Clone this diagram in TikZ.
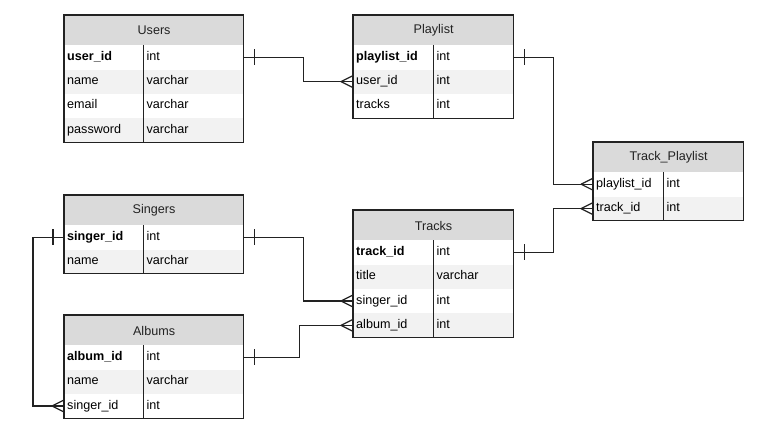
\documentclass[tikz,border=0pt]{standalone}
\usepackage{fontspec}
\setmainfont{Liberation Sans}
\usetikzlibrary{calc}
\definecolor{headgray}{RGB}{218,218,218}
\definecolor{rowgray}{RGB}{242,242,242}
\definecolor{ink}{RGB}{34,34,34}
\tikzset{
  tablehead/.style = {draw=ink, fill=headgray, line width=1.2, anchor=north west, minimum height=30, inner sep=0pt, text=ink},
  field/.style = {anchor=north west, minimum height=24, inner xsep=3, inner ysep=0, align=left, text height=9, text depth=3, text=black},
  whiterow/.style = {fill=white},
  greyrow/.style = {fill=rowgray},
  link/.style = {draw=ink, line width=1.2},
}
\newcommand{\erfield}[7]{
   \node[field, #3, text width=#4] (#1k) at (#2) {#6};
   \node[field, #3, text width=#5] (#1t) at (#1k.north east) {#7};
}
\newcommand{\erframe}[3]{
   \draw[link] (#1.north west) rectangle (#3t.south east);
   \draw[link] (#2k.north east) -- (#3k.south east);
}
\newcommand{\onemark}[2]{
   \draw[link] ($(#1)+(11*#2,-8)$) -- ++(0,16);
}
\newcommand{\manyend}[1]{
   \draw[link] ($(#1)+(-12,0)$) -- ++(12,-6);
   \draw[link] ($(#1)+(-12,0)$) -- ++(12,6);
}

\begin{document}
\begin{tikzpicture}[x=1pt, y=-1pt, font=\fontsize{12.6}{14}\selectfont]
		\useasboundingbox (0,0) rectangle (760,441);

		% Users
		\node[tablehead, minimum width=179] (users) at (64,15) {Users};
		\erfield{users1}{64,45}{whiterow}{73pt}{94pt}{\textbf{user\_id}}{int}
		\erfield{users2}{users1k.south west}{greyrow}{73pt}{94pt}{name}{varchar}
		\erfield{users3}{users2k.south west}{whiterow}{73pt}{94pt}{email}{varchar}
		\erfield{users4}{users3k.south west}{greyrow}{73pt}{94pt}{password}{varchar}
		\erframe{users}{users1}{users4}

		% Playlist
		\node[tablehead, minimum width=160] (playlist) at (353,15) {Playlist};
		\erfield{playlist1}{353,45}{whiterow}{74pt}{74pt}{\textbf{playlist\_id}}{int}
		\erfield{playlist2}{playlist1k.south west}{greyrow}{74pt}{74pt}{user\_id}{int}
		\erfield{playlist3}{playlist2k.south west}{whiterow}{74pt}{74pt}{tracks}{int}
		\erframe{playlist}{playlist1}{playlist3}

		% Track_Playlist
		\node[tablehead, minimum width=150] (trackpl) at (593,142) {Track\_Playlist};
		\erfield{trackpl1}{593,172}{whiterow}{64pt}{74pt}{playlist\_id}{int}
		\erfield{trackpl2}{trackpl1k.south west}{greyrow}{64pt}{74pt}{track\_id}{int}
		\erframe{trackpl}{trackpl1}{trackpl2}

		% Singers
		\node[tablehead, minimum width=179] (singers) at (64,195) {Singers};
		\erfield{singers1}{64,225}{whiterow}{73pt}{94pt}{\textbf{singer\_id}}{int}
		\erfield{singers2}{singers1k.south west}{greyrow}{73pt}{94pt}{name}{varchar}
		\erframe{singers}{singers1}{singers2}

		% Tracks
		\node[tablehead, minimum width=160] (tracks) at (353,210) {Tracks};
		\erfield{tracks1}{353,240}{whiterow}{74pt}{74pt}{\textbf{track\_id}}{int}
		\erfield{tracks2}{tracks1k.south west}{greyrow}{74pt}{74pt}{title}{varchar}
		\erfield{tracks3}{tracks2k.south west}{whiterow}{74pt}{74pt}{singer\_id}{int}
		\erfield{tracks4}{tracks3k.south west}{greyrow}{74pt}{74pt}{album\_id}{int}
		\erframe{tracks}{tracks1}{tracks4}

		% Albums
		\node[tablehead, minimum width=179] (albums) at (64,315) {Albums};
		\erfield{albums1}{64,345}{whiterow}{73pt}{94pt}{\textbf{album\_id}}{int}
		\erfield{albums2}{albums1k.south west}{greyrow}{73pt}{94pt}{name}{varchar}
		\erfield{albums3}{albums2k.south west}{whiterow}{73pt}{94pt}{singer\_id}{int}
		\erframe{albums}{albums1}{albums3}

		% Relations
		\draw[link] (users1t.east) -- ++(60,0) |- (playlist2k.west);
		\onemark{users1t.east}{1}
		\manyend{playlist2k.west}
		%
		\draw[link] (playlist1t.east) -- ++(40,0) |- (trackpl1k.west);
		\onemark{playlist1t.east}{1}
		\manyend{trackpl1k.west}
		%
		\draw[link] (tracks1t.east) -- ++(40,0) |- (trackpl2k.west);
		\onemark{tracks1t.east}{1}
		\manyend{trackpl2k.west}
		%
		\draw[link] (singers1t.east) -- ++(60,0) |- (tracks3k.west);
		\onemark{singers1t.east}{1}
		\manyend{tracks3k.west}
		%
		\draw[link] (albums1t.east) -- ++(56,0) |- (tracks4k.west);
		\onemark{albums1t.east}{1}
		\manyend{tracks4k.west}
		%
		\draw[link] (singers1k.west) -- ++(-31,0) |- (albums3k.west);
		\onemark{singers1k.west}{-1}
		\manyend{albums3k.west}
	\end{tikzpicture}
\end{document}
